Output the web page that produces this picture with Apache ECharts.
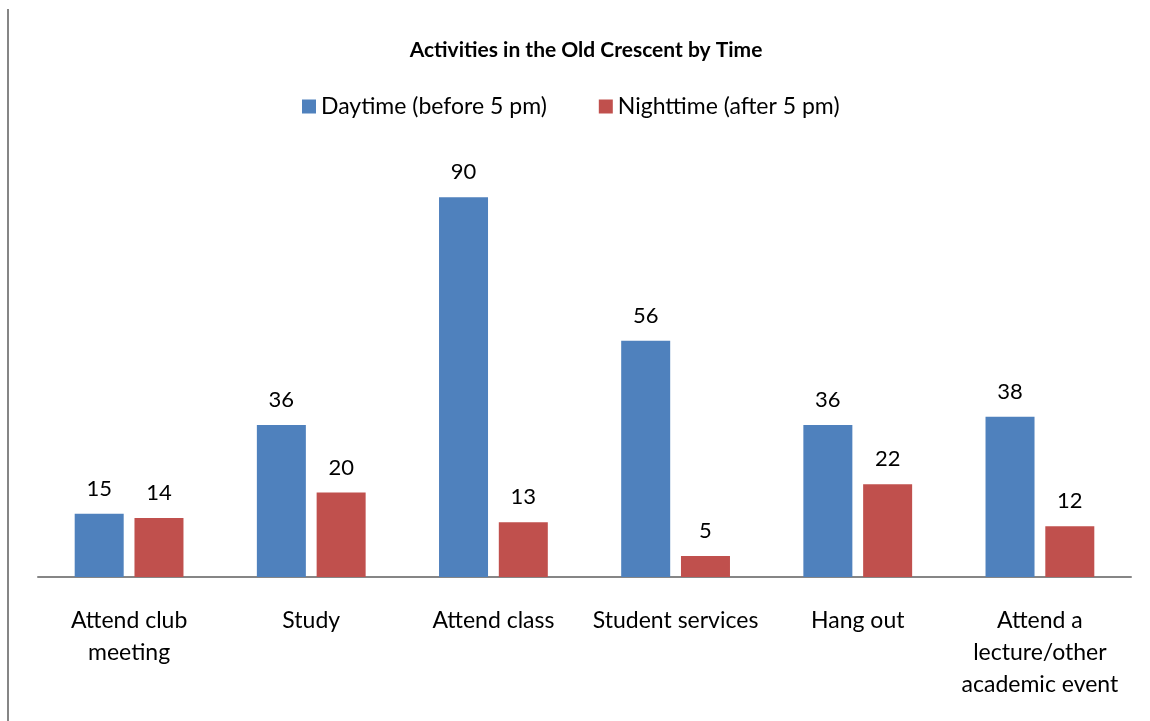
<!DOCTYPE html>
<html><head><meta charset="utf-8">
<script src="https://cdn.jsdelivr.net/npm/echarts@6/dist/echarts.min.js"></script>
<style>html,body{margin:0;padding:0;background:#fff}#c{width:1150px;height:721px}</style>
</head><body><div id="c"></div>
<script>
const categories = ['Attend club\nmeeting', 'Study', 'Attend class', 'Student services', 'Hang out', 'Attend a\nlecture/other\nacademic event'];
const daytime = [15, 36, 90, 56, 36, 38];
const nighttime = [14, 20, 13, 5, 22, 12];
const seriesNames = ['Daytime (before 5 pm)', 'Nighttime (after 5 pm)'];
const FONT = 'Lato, "Open Sans", sans-serif';
const chart = echarts.init(document.getElementById('c'), null, {renderer: 'canvas'});
const lbl = {show: true, position: 'top', distance: 14, color: '#000', fontSize: 22, fontFamily: FONT};
chart.setOption({
  animation: false,
  title: {text: 'Activities in the Old Crescent by Time', left: 581, textAlign: 'center', top: 35,
    textStyle: {fontFamily: FONT, fontWeight: 'bold', fontSize: 21, color: '#000'}},
  legend: {top: 90, left: 297, itemWidth: 14, itemHeight: 14, itemGap: 52, icon: 'rect',
    textStyle: {fontFamily: FONT, fontSize: 23, color: '#000'}, data: seriesNames},
  grid: {left: 38, right: 19, top: 155, bottom: 144},
  xAxis: {type: 'category', data: categories,
    axisLine: {lineStyle: {color: '#868686', width: 2}}, axisTick: {show: false},
    axisLabel: {margin: 28, fontFamily: FONT, fontSize: 23, color: '#000', lineHeight: 32, interval: 0}},
  yAxis: {type: 'value', min: 0, max: 100, show: false, splitLine: {show: false}},
  graphic: [{type: 'line', shape: {x1: 8, y1: 9, x2: 8, y2: 721}, style: {stroke: '#868686', lineWidth: 2}}],
  series: [
    {name: seriesNames[0], type: 'bar', data: daytime, barWidth: 49, barGap: '22%', itemStyle: {color: '#4F81BD'}, label: lbl},
    {name: seriesNames[1], type: 'bar', data: nighttime, barWidth: 49, itemStyle: {color: '#C0504D'}, label: lbl}
  ]
});
</script></body></html>
